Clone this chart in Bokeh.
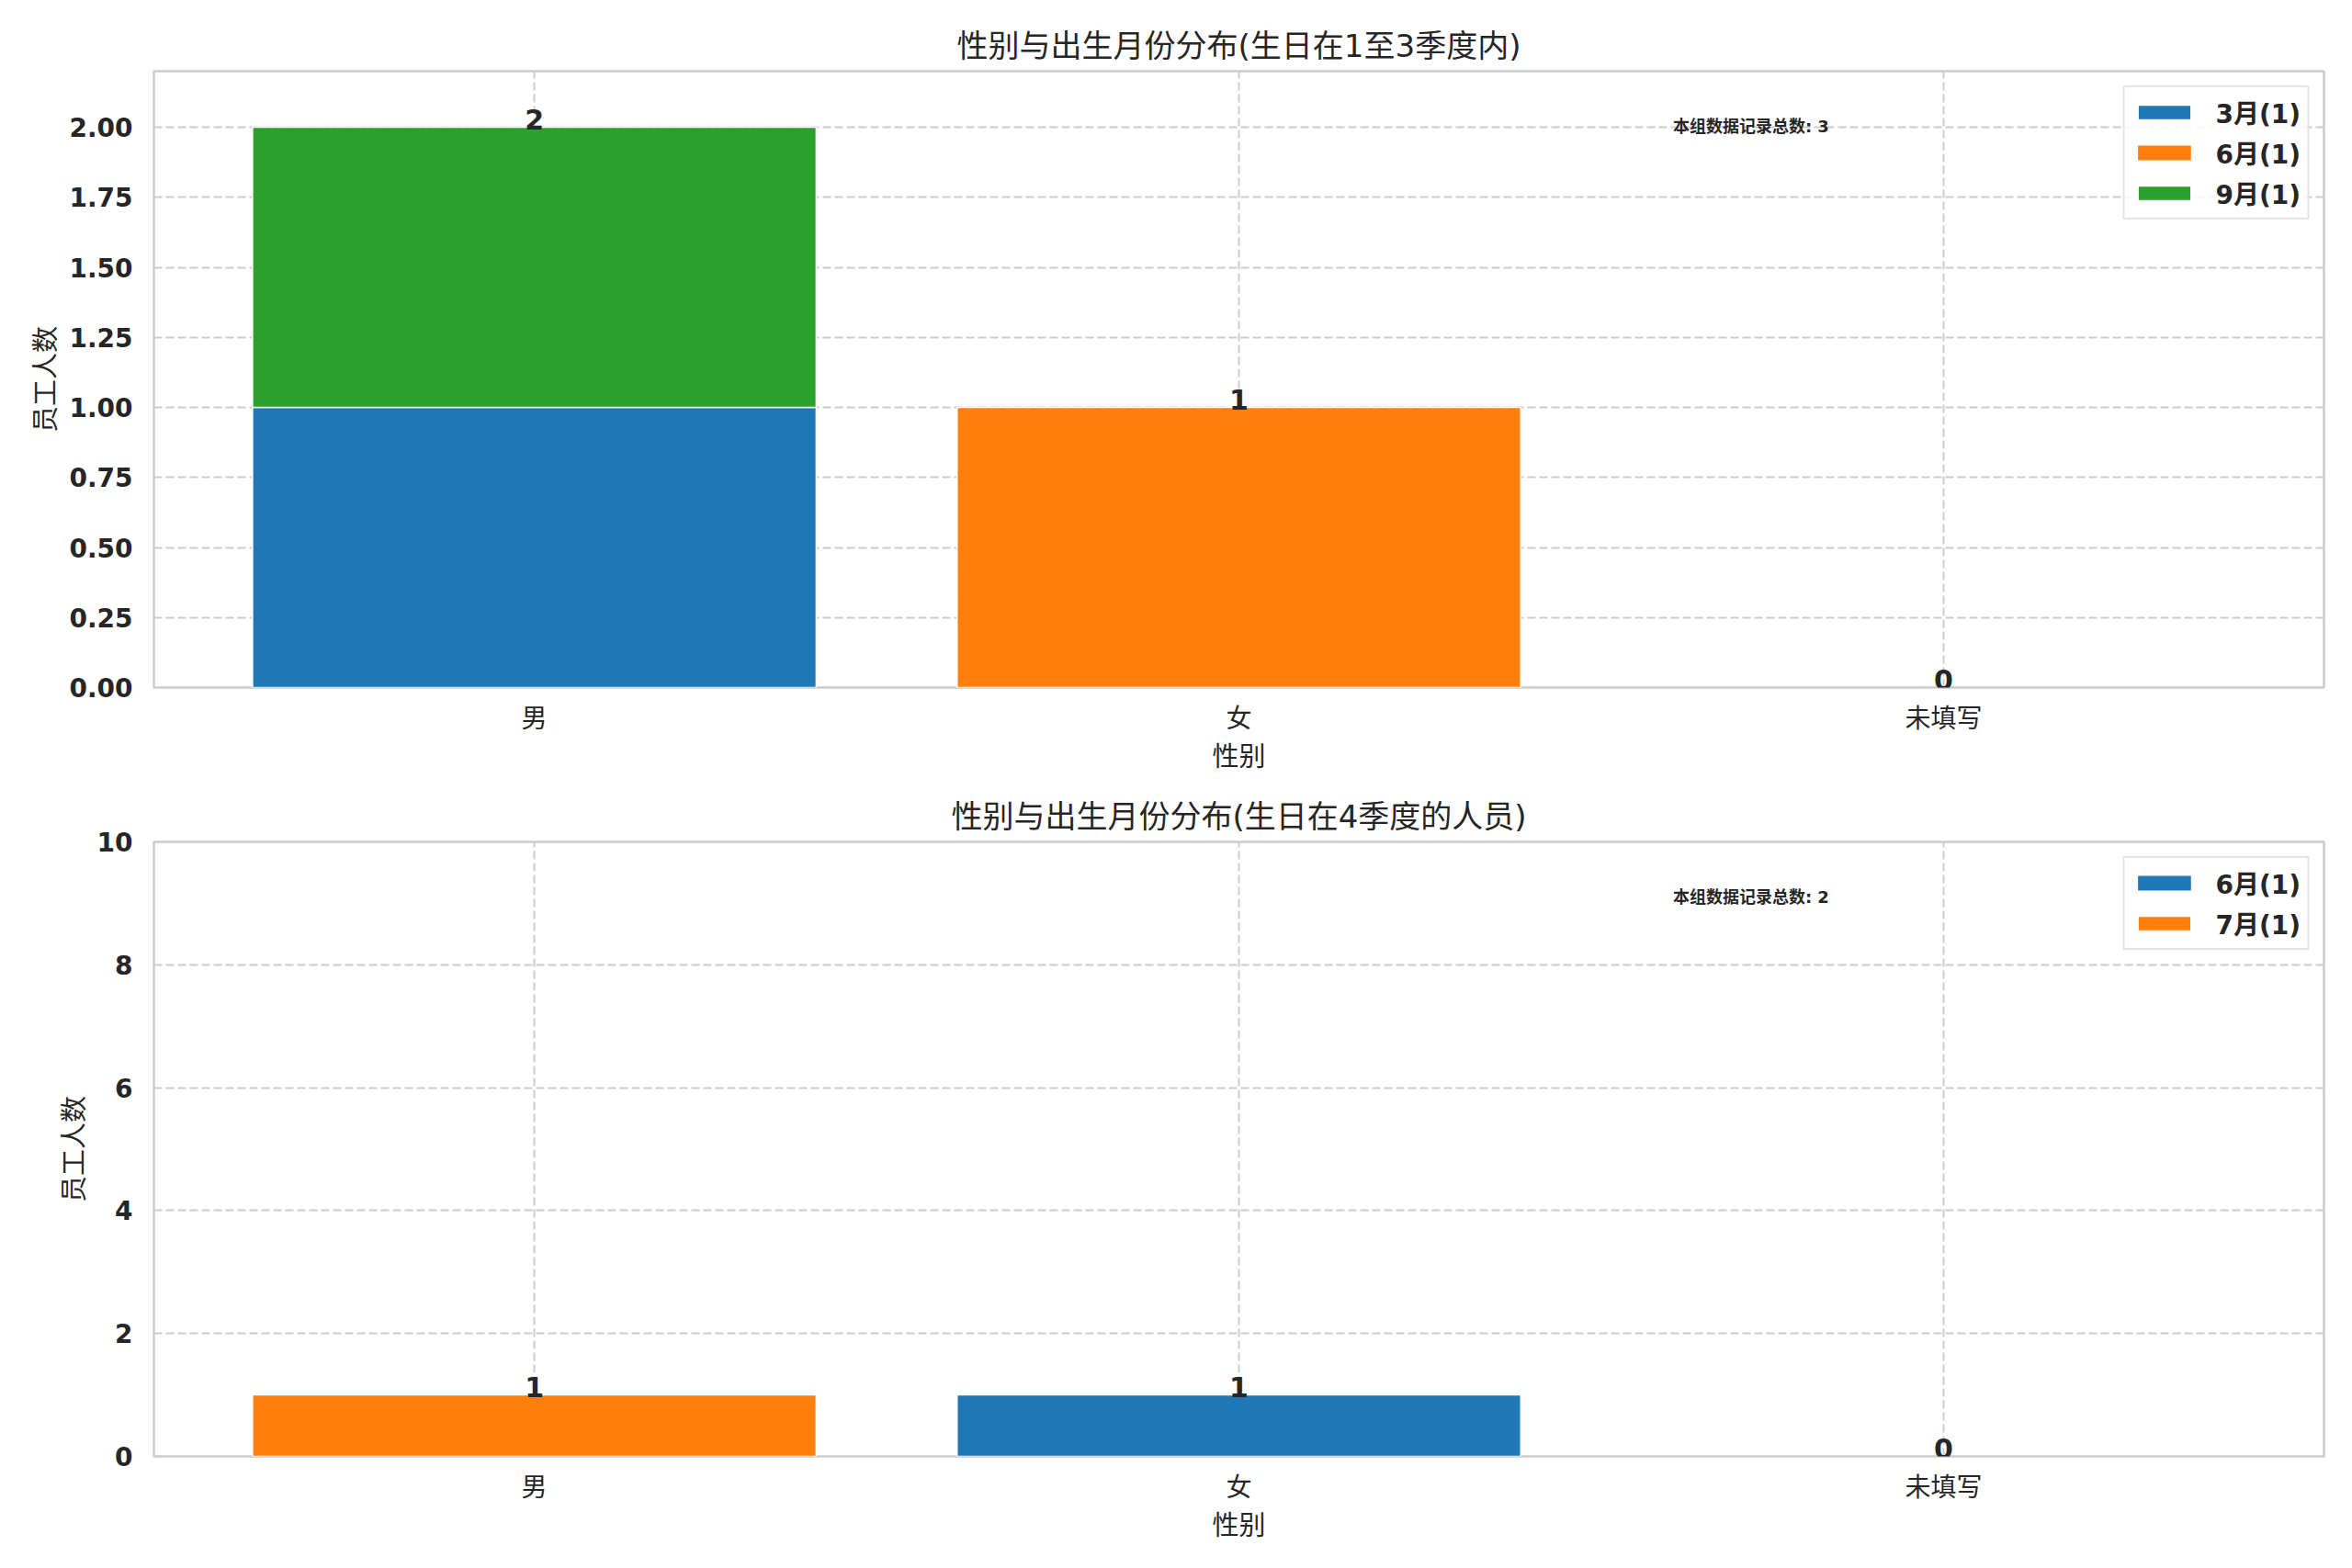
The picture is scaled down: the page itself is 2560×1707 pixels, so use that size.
from bokeh.plotting import figure
from bokeh.layouts import column
from bokeh.models import (Range1d, FixedTicker, SingleIntervalTicker, NumeralTickFormatter,
                          Legend, LegendItem, Label, ColumnDataSource)
from bokeh.embed import file_html
from bokeh.resources import INLINE
from bokeh.core.properties import value

# ---------------- data ----------------
categories = ["男", "女", "未填写"]

top_title = "性别与出生月份分布(生日在1至3季度内)"
top_months = ["3月", "6月", "9月"]
top_3 = [1, 0, 0]
top_6 = [0, 1, 0]
top_9 = [1, 0, 0]
top_colors = ["#1f77b4", "#ff7f0e", "#2ca02c"]
top_counts = [1, 1, 1]
top_note = "本组数据记录总数: 3"
top_ymax = 2.2
top_tick_step = 0.25

bot_title = "性别与出生月份分布(生日在4季度的人员)"
bot_months = ["6月", "7月"]
bot_6 = [0, 1, 0]
bot_7 = [1, 0, 0]
bot_colors = ["#1f77b4", "#ff7f0e"]
bot_counts = [1, 1]
bot_note = "本组数据记录总数: 2"
bot_ymax = 10
bot_tick_step = 2

x_label = "性别"
y_label = "员工人数"

FONT = "'DejaVu Sans', 'Noto Sans CJK SC'"
TXT = "#262626"
GRID = "#cccccc"


def make_chart(title, months, series, colors, counts, note, ymax, step, fmt,
               height, border_top, border_bottom):
    xs = list(range(len(categories)))
    x0, x1 = -0.54, len(categories) - 1 + 0.54
    p = figure(width=2544, height=height, output_backend="svg", toolbar_location=None,
               x_range=Range1d(x0, x1), y_range=Range1d(0, ymax),
               min_border_left=167, min_border_right=15,
               min_border_top=border_top, min_border_bottom=border_bottom)
    p.title.text = title
    p.title.align = "center"
    p.title.text_font = FONT
    p.title.text_font_size = "34px"
    p.title.text_font_style = "normal"
    p.title.text_color = TXT
    p.title.standoff = 16

    src = {"x": xs}
    for m, s in zip(months, series):
        src[m] = s
        src["la_" + m] = [1.0 if v > 0 else 0.0 for v in s]
    source = ColumnDataSource(src)
    renderers = p.vbar_stack(months, x="x", width=0.8, source=source, color=colors,
                             line_color="white", line_width=1.5,
                             line_alpha=["la_" + m for m in months])

    totals = [sum(v) for v in zip(*series)]
    lab = ColumnDataSource({"x": xs, "y": totals, "t": [str(t) for t in totals]})
    p.text(x="x", y="y", text="t", source=lab, text_align="center", text_baseline="bottom",
           text_font=value(FONT), text_font_size="30px", text_font_style="bold",
           text_color=TXT, y_offset=2)

    p.add_layout(Label(x=x0 + 0.70 * (x1 - x0), y=0.91 * ymax, text=note,
                       text_align="left", text_baseline="middle",
                       text_font=FONT, text_font_size="18px", text_font_style="bold",
                       text_color=TXT))

    items = [LegendItem(label=f"{m}({c})", renderers=[r]) for m, c, r in zip(months, counts, renderers)]
    legend = Legend(items=items, location="top_right", margin=16, padding=7, spacing=4,
                    label_text_font=FONT, label_text_font_size="28px", label_text_font_style="bold",
                    label_text_color=TXT, glyph_width=72, glyph_height=20, label_standoff=20,
                    label_height=30, border_line_color=GRID, border_line_width=2,
                    background_fill_alpha=0.85)
    p.add_layout(legend)

    p.xaxis.ticker = FixedTicker(ticks=xs)
    p.xaxis.major_label_overrides = {i: c for i, c in enumerate(categories)}
    p.yaxis.ticker = SingleIntervalTicker(interval=step)
    p.yaxis.formatter = NumeralTickFormatter(format=fmt)
    p.xaxis.axis_label = x_label
    p.yaxis.axis_label = y_label
    for ax in (p.xaxis, p.yaxis):
        ax.axis_line_color = None
        ax.major_tick_line_color = None
        ax.minor_tick_line_color = None
        ax.major_label_text_font = FONT
        ax.major_label_text_font_size = "28px"
        ax.major_label_text_color = TXT
        ax.axis_label_text_font = FONT
        ax.axis_label_text_font_size = "29px"
        ax.axis_label_text_font_style = "normal"
        ax.axis_label_text_color = TXT
    p.yaxis.axis_label_standoff = 5
    p.xaxis.axis_label_standoff = 5
    p.yaxis.major_label_text_font_style = "bold"
    p.xaxis.major_label_text_font_style = "normal"
    p.yaxis.major_label_standoff = 17
    p.xaxis.major_label_standoff = 11

    for g in (p.xgrid, p.ygrid):
        g.grid_line_color = GRID
        g.grid_line_dash = "9 4"
        g.grid_line_width = 2
    p.outline_line_color = GRID
    p.outline_line_width = 2.5
    p.background_fill_color = "white"
    p.border_fill_color = "white"
    return p


p1 = make_chart(top_title, top_months, [top_3, top_6, top_9], top_colors, top_counts,
                top_note, top_ymax, top_tick_step, "0.00", 850, 77, 102)
p2 = make_chart(bot_title, bot_months, [bot_6, bot_7], bot_colors, bot_counts,
                bot_note, bot_ymax, bot_tick_step, "0", 849, 66, 114)

layout = column(p1, p2, spacing=0)
open("out.html", "w").write(file_html(layout, INLINE))
